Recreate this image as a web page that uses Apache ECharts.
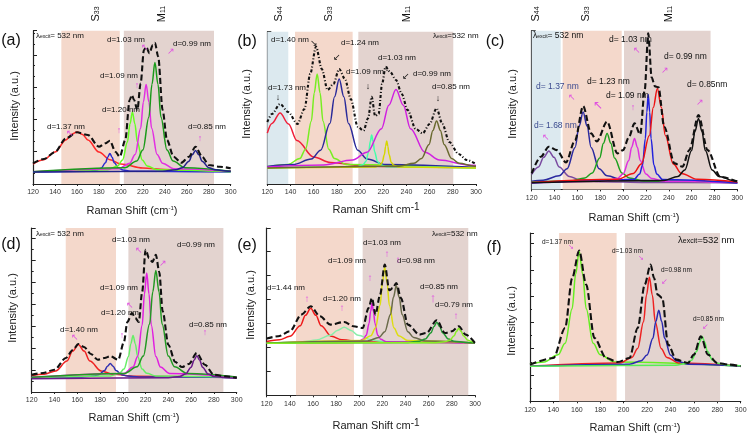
<!DOCTYPE html>
<html><head><meta charset="utf-8">
<script src="https://cdn.jsdelivr.net/npm/echarts@6/dist/echarts.min.js"></script>
<style>html,body{margin:0;padding:0;background:#fff}#c{width:750px;height:436px}</style>
</head><body><div id="c"></div>
<script>
// ---------- shared axis values ----------
const xMin = 120, xMax = 300, xStep = 20;

// ---------- panel (a) ----------
const aShades = [[145.8, 199], [202.7, 284.8]];
const aRed = [[120,20],[130,24.3],[140,32],[150,44],[155,49.6],[160,52],[165,49.6],[170,44],[180,32],[190,24.3],[200,20],[220,16],[240,14.4],[270,13.3],[300,12.8]];
const aBlue = [[120,12],[170,12.7],[178,13.9],[182,15.7],[186,21.3],[188,26.8],[190,30.5],[192,26.8],[194,21.3],[198,15.7],[202,13.9],[210,12.7],[300,12]];
const aLime = [[120,12.3],[188,14.3],[197,18],[201.5,24],[206,42],[208.3,60],[210.5,72],[212.8,60],[215,42],[219.5,24],[224,18],[233,14.3],[300,12.3]];
const aMagenta = [[120,12.2],[198,15.3],[208,20.8],[213,29.5],[218,55.8],[220.5,82],[223,99.5],[225.5,82],[228,55.8],[233,29.5],[238,20.8],[248,15.3],[300,12.8]];
const aGreen = [[120,12.3],[203.5,16.2],[214.5,23],[220,33.9],[225.5,66.8],[228.3,99.6],[231,121.5],[233.8,99.6],[236.5,66.8],[242,33.9],[247.5,23],[258.5,16.2],[300,12.7]];
const aNavy = [[120,12],[238,12.8],[250,14.2],[256,16.3],[262,22.8],[265,29.2],[268,33.5],[271,29.2],[274,22.8],[280,16.3],[286,14.2],[298,12.8],[300,12.7]];
const aSum = [[120,20.7],[130,25],[140,32],[150,45.7],[160,51.7],[170,49],[180,37.3],[186,40.7],[190,43.3],[195,32.3],[199,27.3],[204,44],[208,84],[210,89],[212,84],[215,74],[218,100.7],[221,134],[223,137.3],[226,130.7],[229,139],[231,141.3],[234,127.3],[238,74],[242,44],[248,27.3],[255,21.3],[262,27.3],[268,37.3],[274,27.3],[280,19],[290,17.3],[300,15.7]];

// ---------- panel (b) ----------
const bShades = [[120, 138.1], [143.9, 193.6], [198.5, 280.4]];
const bRed = [[120,50.9],[124,60.6],[131,71],[138.3,60],[145.5,43.5],[160,27],[174.5,21.5],[203.5,18.1],[240,16.9],[300,16.4]];
const bLime = [[120,17.3],[138,19.6],[148,25.4],[153,34.8],[158,63],[160.5,91.2],[163,110],[165.5,91.2],[168,63],[173,34.8],[178,25.4],[188,19.6],[300,16.1]];
const bNavy = [[120,17.5],[142,19.4],[158,24.9],[166,33.8],[174,60.5],[178,87.2],[182,105],[186,87.2],[190,60.5],[198,33.8],[206,24.9],[222,19.4],[300,16.4]];
const bAqua = [[120,16],[197.5,17.3],[202.5,19.3],[205,22.6],[207.5,32.5],[208.8,42.4],[210,49],[211.3,42.4],[212.5,32.5],[215,22.6],[217.5,19.3],[222.5,17.3],[300,16]];
const bYellow = [[120,16],[213,17],[217,18.7],[219,21.4],[221,29.5],[222,37.6],[223,43],[224,37.6],[225,29.5],[227,21.4],[229,18.7],[233,17],[300,16]];
const bMagenta = [[120,17],[168.5,19],[193.5,23.9],[206,31.7],[218.5,55.3],[224.8,78.8],[231,94.5],[237.3,78.8],[243.5,55.3],[256,31.7],[268.5,23.9],[293.5,19],[300,18.5]];
const bOlive = [[120,16.1],[233.5,17.8],[246.5,20.7],[253,25.4],[259.5,39.5],[262.8,53.6],[266,63],[269.3,53.6],[272.5,39.5],[279,25.4],[285.5,20.7],[298.5,17.8],[300,17.7]];
const bSum = [[120,62],[124,70],[131,80],[138,72],[146,60],[152,75],[157,110],[162,137.3],[167,115],[172,94],[177,100],[182,115],[187,105],[192,85],[198,57.3],[203,53.3],[207,66],[210,87.3],[213,68],[216,70],[219,100],[222,117.3],[226,112],[231,104],[236,90],[241,74],[248,55],[254,50.7],[260,60],[266,75.7],[271,60],[277,42],[285,30],[292,24],[300,20]];

// ---------- panel (c) ----------
const cShades = [[120, 145.4], [147.1, 198.8], [200.8, 276.6]];
const cPurple = [[120,15],[126,22.5],[130.5,32.1],[135,38.5],[139.5,32.1],[144,22.5],[153,12.9],[162,9.7],[180,7.7],[220,6.9],[300,6.6]];
const cNavy = [[120,8.2],[130,9.2],[144,13.6],[151,20.7],[158,42],[161.5,63.3],[165,77.5],[168.5,63.3],[172,42],[179,20.7],[186,13.6],[200,9.2],[300,6.7]];
const cGreen = [[120,7.1],[153.5,8.4],[166.5,11.5],[173,16.4],[179.5,31.3],[182.8,46.1],[186,56],[189.3,46.1],[192.5,31.3],[199,16.4],[205.5,11.5],[218.5,8.4],[300,6.7]];
const cMagenta = [[120,6.6],[185,8.2],[195,11],[200,15.4],[205,28.8],[207.5,42.1],[210,51],[212.5,42.1],[215,28.8],[220,15.4],[225,11],[235,8.2],[300,6.6]];
const cBlue = [[120,6.5],[209.5,9.9],[214.5,15.4],[217,24.2],[219.5,50.8],[220.8,77.3],[222,95],[223.3,77.3],[224.5,50.8],[227,24.2],[229.5,15.4],[234.5,9.9],[300,6.5]];
const cRed = [[120,6.9],[195,10.1],[209,16],[216,25.4],[223,53.8],[226.5,82.1],[230,101],[233.5,82.1],[237,53.8],[244,25.4],[251,16],[265,10.1],[300,7.4]];
const cBlack = [[120,6.6],[236,9],[248,13],[254,19.4],[260,38.8],[263,58.1],[266,71],[269,58.1],[272,38.8],[278,19.4],[284,13],[296,9],[300,8.4]];
const cSum = [[120,16],[128,32.7],[135,42.7],[142,39.3],[150,27],[158,49.3],[165,83.3],[172,56],[177,48],[186,67.7],[195,36],[200,39.3],[205,52],[210,66],[215,55],[219,100],[222,156],[225,112],[228,103],[231,102],[236,62.7],[245,26],[252,22.7],[258,39.3],[266,74.3],[274,39.3],[285,12.7],[300,7.7]];

// ---------- panel (d) ----------
const dShades = [[149.9, 194], [204.9, 288.3]];
const dRed = [[120,16.4],[131,17.8],[141,21.1],[151,31],[156,40.9],[161,47.5],[166,40.9],[171,31],[181,21.1],[191,17.8],[211,15.8],[300,14.7]];
const dBlue = [[120,14.5],[164,15],[174,15.9],[179,17.3],[184,21.5],[186.5,25.7],[189,28.5],[191.5,25.7],[194,21.5],[199,17.3],[204,15.9],[214,15],[300,14.5]];
const dLightGreen = [[120,14.5],[189,16.1],[197,18.7],[201,22.9],[205,35.5],[207,48.1],[209,56.5],[211,48.1],[213,35.5],[217,22.9],[221,18.7],[229,16.1],[300,14.6]];
const dMagenta = [[120,14.7],[201,18.5],[209,25],[213,35.4],[217,66.8],[219,98.1],[221,119],[223,98.1],[225,66.8],[229,35.4],[233,25],[241,18.5],[300,14.9]];
const dGreen = [[120,14.8],[201.5,18.6],[212.5,25.2],[218,35.9],[223.5,68],[226.3,100.1],[229,121.5],[231.8,100.1],[234.5,68],[240,35.9],[245.5,25.2],[256.5,18.6],[300,15.1]];
const dPurple = [[120,13.3],[240,14.2],[250,15.6],[255,17.9],[260,24.8],[262.5,31.7],[265,36.3],[267.5,31.7],[270,24.8],[275,17.9],[280,15.6],[290,14.2],[300,13.8]];
const dSum = [[120,17.3],[130,19],[140,22.3],[150,34],[156,42],[161,48],[166,45],[172,38],[178,32.3],[184,34],[189,35.7],[196,32.3],[201,50],[204,70],[208,79],[211,74],[214,70],[217,100],[220,142.3],[223,134],[226,130],[229,137.3],[232,120],[235,80.7],[240,47.3],[246,30],[252,25],[258,28],[265,39],[272,27.3],[280,17.3],[290,15.7],[300,14]];

// ---------- panel (e) ----------
const eShades = [[145.3, 195.4], [202.9, 294.2]];
const eRed = [[120,53.9],[131,55.5],[140,59],[149,69.5],[153.5,80],[158,87],[162.5,80],[167,69.5],[176,59],[185,55.5],[203,53.3],[300,52.1]];
const eMint = [[120,52.5],[127,52.6],[151,53.6],[163,55.2],[175,60],[181,64.8],[187,68],[193,64.8],[199,60],[211,55.2],[223,53.6],[247,52.6],[300,52.2]];
const eMagenta = [[120,52],[198.5,53.5],[203.5,56],[206,60],[208.5,72],[209.8,84],[211,92],[212.3,84],[213.5,72],[216,60],[218.5,56],[223.5,53.5],[300,52]];
const eYellow = [[120,52.1],[202,54.9],[210,59.6],[214,67.2],[218,90],[220,112.8],[222,128],[224,112.8],[226,90],[230,67.2],[234,59.6],[242,54.9],[300,52.2]];
const eOlive = [[120,52.1],[207,54.2],[217,57.8],[222,63.5],[227,80.8],[229.5,98],[232,109.5],[234.5,98],[237,80.8],[242,63.5],[247,57.8],[257,54.2],[300,52.3]];
const eGreen = [[120,52],[242,52.8],[252,54.1],[257,56.2],[262,62.5],[264.5,68.8],[267,73],[269.5,68.8],[272,62.5],[277,56.2],[282,54.1],[292,52.8],[300,52.5]];
const eLime = [[120,52],[266,52.6],[274,53.5],[278,55],[282,59.5],[284,64],[286,67],[288,64],[290,59.5],[294,55],[298,53.5],[300,53.2]];
const eSum = [[120,56.7],[130,59],[140,64],[150,80.7],[158,89],[166,79],[175,70.7],[187,73.3],[195,69],[203,67.3],[208,87.3],[211,97.3],[214,80.7],[218,100.7],[222,130.7],[226,105],[229,107.3],[232,112.3],[236,97.3],[242,70.7],[252,60.7],[258,62.3],[267,75],[274,62.3],[280,64],[286,69],[292,60.7],[300,52.3]];

// ---------- panel (f) ----------
const fShades = [[144.8, 194], [201.2, 282.4]];
const fLime = [[120,37.3],[132,39.4],[144,46.5],[150,58],[156,92.5],[159,127],[162,150],[165,127],[168,92.5],[174,58],[180,46.5],[192,39.4],[300,35.2]];
const fRed = [[120,35.2],[197,38.4],[207,43.9],[212,52.8],[217,79.5],[219.5,106.2],[222,124],[224.5,106.2],[227,79.5],[232,52.8],[237,43.9],[247,38.4],[300,35.4]];
const fBlue = [[120,35.1],[205,37.1],[215,40.6],[220,46.2],[225,63],[227.5,79.8],[230,91],[232.5,79.8],[235,63],[240,46.2],[245,40.6],[255,37.1],[300,35.3]];
const fGreen = [[120,35],[244.5,36.1],[253.5,38],[258,41],[262.5,50],[264.8,59],[267,65],[269.3,59],[271.5,50],[276,41],[280.5,38],[289.5,36.1],[300,35.6]];
const fSum = [[120,36.7],[140,43.3],[150,73.3],[156,123],[162,150.7],[168,116.7],[175,63.3],[185,43.3],[195,39.3],[205,43.3],[212,73.3],[218,116.7],[223,136.7],[226,123.3],[229,106.7],[233,103.3],[238,56.7],[245,41.7],[255,38.3],[260,46.7],[266,65],[272,46.7],[280,38.3],[290,36.7],[300,35]];

// ---------- layout & styles ----------
const PEACH = '#f4d8cb', BROWN = '#e3d3cf', BLUE = '#dce9ef';
const FONT = "'Liberation Sans', Arial, sans-serif";
const panels = [
  {left:33, top:30.7, width:197.7, height:153.3, yInt:32.3, ySplit:3,
   shades:aShades, shadeColors:[PEACH,BROWN],
   curves:[[aRed,'#ff2a2a'],[aBlue,'#2a2ad0'],[aLime,'#66ff22'],[aMagenta,'#e22ee2'],[aGreen,'#1a9a1a'],[aNavy,'#22228a']],
   sum:aSum, sumType:[6,3]},
  {left:267.3, top:31.7, width:208.7, height:152.3, yInt:27.8, ySplit:2,
   shades:bShades, shadeColors:[BLUE,PEACH,BROWN],
   curves:[[bRed,'#f0203a'],[bLime,'#77ee22'],[bNavy,'#2a2a9a'],[bAqua,'#44ffaa'],[bYellow,'#d6d600'],[bMagenta,'#d020e0'],[bOlive,'#6a6a30']],
   sum:bSum, sumType:[3,2,1,2]},
  {left:531.7, top:30.7, width:205.6, height:158.7, yInt:30, ySplit:3,
   shades:cShades, shadeColors:[BLUE,PEACH,BROWN],
   curves:[[cPurple,'#7a4aa0'],[cNavy,'#2a2aa0'],[cGreen,'#20a020'],[cMagenta,'#e030e0'],[cBlue,'#2222dd'],[cRed,'#ee1111'],[cBlack,'#111111']],
   sum:cSum, sumType:[6,3]},
  {left:31.7, top:228, width:205, height:164, yInt:22, ySplit:2,
   shades:dShades, shadeColors:[PEACH,BROWN],
   curves:[[dRed,'#ee2222'],[dBlue,'#3030b0'],[dLightGreen,'#66ee66'],[dMagenta,'#e020e0'],[dGreen,'#229922'],[dPurple,'#6a1a8a']],
   sum:dSum, sumType:[6,3]},
  {left:266.7, top:228, width:208.3, height:167.3, yInt:24, ySplit:1,
   shades:eShades, shadeColors:[PEACH,BROWN],
   curves:[[eRed,'#ee1a1a'],[eMint,'#88eeaa'],[eMagenta,'#dd22dd'],[eYellow,'#dddd11'],[eOlive,'#6a6a4a'],[eGreen,'#229933'],[eLime,'#88ee22']],
   sum:eSum, sumType:[6,3]},
  {left:530, top:233, width:210.7, height:168.3, yInt:26.3, ySplit:2,
   shades:fShades, shadeColors:[PEACH,BROWN],
   curves:[[fLime,'#66ee22'],[fRed,'#ee2222'],[fBlue,'#2a2ab0'],[fGreen,'#55ee55']],
   sum:fSum, sumType:[7,3]}
];

const grid = [], xAxis = [], yAxis = [], series = [];
panels.forEach((p, i) => {
  grid.push({left:p.left, top:p.top, width:p.width, height:p.height, containLabel:false});
  xAxis.push({gridIndex:i, type:'value', min:xMin, max:xMax, interval:xStep,
    axisLine:{show:true, onZero:false, lineStyle:{color:'#222', width:1.2}},
    axisTick:{inside:false, length:2, lineStyle:{color:'#222'}},
    axisLabel:{fontSize:7, color:'#333', margin:5, fontFamily:FONT},
    splitLine:{show:false}});
  yAxis.push({gridIndex:i, type:'value', min:0, max:p.height, interval:p.yInt,
    axisLine:{show:true, lineStyle:{color:'#222', width:1.2}},
    axisTick:{show:true, inside:true, length:4, lineStyle:{color:'#222'}},
    minorTick:{show:p.ySplit > 1, splitNumber:p.ySplit, length:2, lineStyle:{color:'#222'}},
    axisLabel:{show:false}, splitLine:{show:false}});
  series.push({type:'line', xAxisIndex:i, yAxisIndex:i, data:[], silent:true, z:1,
    markArea:{silent:true, data:p.shades.map((s, k) => [{xAxis:s[0], itemStyle:{color:p.shadeColors[k]}}, {xAxis:s[1]}])}});
  p.curves.forEach(([d, col]) => {
    series.push({type:'line', xAxisIndex:i, yAxisIndex:i, data:d, showSymbol:false, symbol:'none',
      smooth:0.35, smoothMonotone:'x', silent:true, z:3, lineStyle:{color:col, width:1.5}});
  });
  series.push({type:'line', xAxisIndex:i, yAxisIndex:i, data:p.sum, showSymbol:false, symbol:'none',
    smooth:0.3, smoothMonotone:'x', silent:true, z:4, lineStyle:{color:'#111', width:2.1, type:p.sumType}});
});

// ---------- text helpers ----------
function T(x, y, text, size, color, opt) {
  opt = opt || {};
  return {type:'text', x:x, y:y, rotation:opt.rot || 0, z:100, silent:true,
    style:{text:text, fill:color || '#111', font:(opt.weight || 'normal') + ' ' + (size || 8) + 'px ' + FONT,
      textAlign:opt.align || 'left', align:opt.align || 'left',
      textVerticalAlign:'middle', verticalAlign:'middle', rich:opt.rich}};
}
function lam(x, y, size, sub, eq) {
  return T(x, y, '{m|λ}{s|excit}{m|' + eq + '}', size, '#111', {rich:{
    m:{fontSize:size, fontFamily:FONT, padding:[0,0,2,0], fill:'#111'},
    s:{fontSize:sub, fontFamily:FONT, fill:'#111'}}});
}
function topLab(x, main, sub) {
  return T(x, 14, '{m|' + main + '}{s|' + sub + '}', 10, '#111', {rot:Math.PI/2, align:'center', rich:{
    m:{fontSize:11, fontFamily:FONT, padding:[0,0,3,0]}, s:{fontSize:7, fontFamily:FONT}}});
}
function xTitle(x, y, paren) {
  const txt = paren ? '{m|Raman Shift (cm}{p|-1}{m|)}' : '{m|Raman Shift cm}{q|-1}';
  return T(x, y, txt, 11, '#222', {align:'center', rich:{
    m:{fontSize:11, fontFamily:FONT}, p:{fontSize:6, fontFamily:FONT, padding:[0,0,6,0]},
    q:{fontSize:10, fontFamily:FONT, padding:[0,0,6,0]}}});
}
function yTitle(x, y) { return T(x, y, 'Intensity (a.u.)', 11, '#222', {rot:Math.PI/2, align:'center'}); }
function arr(x, y, ch, color, size) { return T(x, y, ch, size || 9, color, {align:'center'}); }
const MG = '#e050e0';

const graphic = [
  // panel letters
  T(11, 41, '(a)', 16, '#111', {align:'center'}), T(247, 42, '(b)', 16, '#111', {align:'center'}),
  T(495, 42, '(c)', 16, '#111', {align:'center'}), T(11, 245, '(d)', 16, '#111', {align:'center'}),
  T(247, 246, '(e)', 16, '#111', {align:'center'}), T(494, 248, '(f)', 16, '#111', {align:'center'}),
  // top band labels
  topLab(97, 'S', '33'), topLab(163, 'M', '11'),
  topLab(280, 'S', '44'), topLab(330, 'S', '33'), topLab(408, 'M', '11'),
  topLab(537, 'S', '44'), topLab(587, 'S', '33'), topLab(670, 'M', '11'),
  // axis titles
  xTitle(132, 211, true), xTitle(376, 210, false), xTitle(634, 218, true),
  xTitle(134, 418, true), xTitle(376, 426, false), xTitle(635, 428, true),
  yTitle(15, 106), yTitle(247, 104), yTitle(513, 104),
  yTitle(13, 308), yTitle(251, 305), yTitle(512, 321),
  // (a)
  lam(36, 37, 8, 5, '= 532 nm'),
  T(107, 40, 'd=1.03 nm', 8), T(173, 44, 'd=0.99 nm', 8), T(100, 76, 'd=1.09 nm', 8),
  T(102, 110, 'd=1.20 nm', 8), T(47, 127, 'd=1.37 nm', 8), T(188, 127, 'd=0.85 nm', 8),
  arr(70, 134, '↖', MG), arr(145, 48, '↖', MG), arr(171, 52, '↗', MG), arr(137, 86, '↑', MG),
  arr(119, 131, '↑', MG), arr(200, 139, '↑', MG),
  // (b)
  lam(433, 37, 8, 5, '=532 nm'),
  T(271, 40, 'd=1.40 nm', 8), T(341, 43, 'd=1.24 nm', 8), T(378, 58, 'd=1.03 nm', 8),
  T(346, 72, 'd=1.09 nm', 8), T(413, 74, 'd=0.99 nm', 8), T(268, 88, 'd=1.73 nm', 8),
  T(432, 87, 'd=0.85 nm', 8),
  arr(314, 44, '↘', '#111'), arr(337, 58, '↙', '#111'), arr(278, 98, '↓', '#111'),
  arr(368, 87, '↓', '#111'), arr(387, 69, '↓', '#111'), arr(406, 77, '↙', '#111'), arr(438, 99, '↓', '#111'),
  // (c)
  lam(533, 37, 8.5, 5, '= 532 nm'),
  T(609, 40, 'd= 1.03 nm', 8.5), T(664, 57, 'd= 0.99 nm', 8.5), T(587, 82, 'd= 1.23 nm', 8.5),
  T(536, 87, 'd= 1.37 nm', 8.5, '#3b4a8f'), T(606, 96, 'd= 1.09 nm', 8.5), T(687, 85, 'd= 0.85nm', 8.5),
  T(534, 126, 'd= 1.68 nm', 8.5, '#3b4a8f'),
  arr(637, 51, '↖', MG), arr(665, 71, '↗', MG), arr(572, 98, '↖', MG), arr(598, 106, '↖', MG, 12),
  arr(633, 108, '↑', MG), arr(700, 103, '↗', MG), arr(546, 138, '↖', MG),
  // (d)
  lam(36, 235, 8, 5, '= 532 nm'),
  T(112, 240, 'd=1.03 nm', 8), T(177, 245, 'd=0.99 nm', 8), T(100, 288, 'd=1.09 nm', 8),
  T(101, 313, 'd=1.20 nm', 8), T(60, 330, 'd=1.40 nm', 8), T(189, 325, 'd=0.85 nm', 8),
  arr(75, 338, '↖', MG), arr(122, 336, '↑', MG), arr(130, 306, '↖', MG), arr(139, 251, '↖', MG),
  arr(163, 264, '↗', MG), arr(205, 333, '↑', MG),
  // (e)
  lam(432, 235, 8, 5, '=532 nm'),
  T(363, 243, 'd=1.03 nm', 8), T(328, 261, 'd=1.09 nm', 8), T(397, 261, 'd=0.98 nm', 8),
  T(267, 288, 'd=1.44 nm', 8), T(323, 299, 'd=1.20 nm', 8), T(420, 287, 'd=0.85 nm', 8),
  T(435, 305, 'd=0.79 nm', 8),
  arr(307, 299, '↑', MG, 10), arr(342, 308, '↑', MG, 10), arr(370, 278, '↑', MG, 10),
  arr(387, 254, '↑', MG, 10), arr(398, 260, '↑', MG, 10), arr(433, 298, '↑', MG, 13), arr(456, 316, '↑', MG, 10),
  // (f)
  T(542, 242, 'd=1.37 nm', 6.5), T(612, 251, 'd=1.03 nm', 6.5), T(661, 270, 'd=0.98 nm', 6.5),
  T(693, 319, 'd=0.85 nm', 6.5),
  lam(678, 241, 9.5, 7, '=532 nm'),
  arr(571, 247, '↘', MG, 7), arr(641, 258, '↘', MG, 7), arr(664, 282, '↙', MG, 8), arr(705, 327, '↙', MG, 8)
];

const chart = echarts.init(document.getElementById('c'), null, {renderer:'canvas'});
chart.setOption({animation:false, backgroundColor:'#fff', grid, xAxis, yAxis, series, graphic});
</script></body></html>
